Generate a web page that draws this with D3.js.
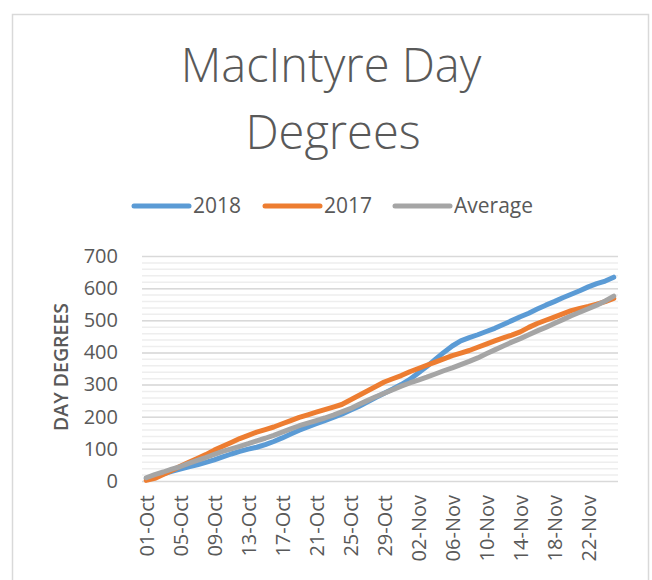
<!DOCTYPE html>
<html>
<head>
<meta charset="utf-8">
<script src="https://cdn.jsdelivr.net/npm/d3@7"></script>
<style>
  body { margin: 0; background: #fff; }
  text { font-family: 'Open Sans', sans-serif; fill: #595959; }
  .grid-minor line { stroke: #eeeeee; stroke-width: 1.5; }
  .grid-major line { stroke: #d9d9d9; stroke-width: 1.5; }
  .series { fill: none; stroke-width: 5; stroke-linejoin: round; stroke-linecap: round; }
</style>
</head>
<body>
<script>
// ==================== Data ============================
// One value per day, 01-Oct to 25-Nov
const days = d3.timeDay.range(new Date(2018, 9, 1), new Date(2018, 10, 26)).map(d3.timeFormat('%d-%b'));

const values2018 = [8, 15, 22, 30, 37, 44, 50, 58, 66, 75, 84, 92, 99, 105, 113, 123, 134, 146, 158, 168,
  178, 188, 198, 208, 220, 232, 246, 260, 273, 286, 300, 316, 336, 356, 378, 400, 420, 436, 446, 455,
  465, 475, 487, 499, 511, 522, 535, 547, 558, 570, 581, 592, 604, 614, 622, 634];

const values2017 = [2, 8, 20, 33, 46, 58, 70, 82, 96, 108, 120, 132, 142, 152, 160, 168, 178, 188, 198, 206,
  214, 222, 230, 238, 252, 266, 280, 294, 308, 318, 328, 340, 350, 360, 370, 380, 390, 398, 406, 416,
  426, 436, 445, 454, 464, 478, 490, 500, 510, 520, 530, 537, 543, 550, 558, 568];

const valuesAverage = [10, 20, 28, 37, 45, 55, 64, 73, 83, 92, 100, 108, 116, 125, 133, 142, 152, 162, 172, 180,
  188, 196, 205, 215, 225, 238, 250, 262, 273, 284, 295, 305, 314, 323, 333, 343, 352, 362, 372, 383,
  396, 408, 420, 432, 443, 455, 467, 478, 490, 502, 514, 525, 536, 547, 560, 575];

const series = [
  {name: '2018', values: values2018, color: '#5B9BD5'},
  {name: '2017', values: values2017, color: '#ED7D31'},
  {name: 'Average', values: valuesAverage, color: '#A5A5A5'}
];

const yTicks = [0, 100, 200, 300, 400, 500, 600, 700];

// ==================== Set up ============================
const W = 652, H = 580;
const plot = {left: 142, right: 618, top: 256, bottom: 481};

const x = d3.scalePoint().domain(days).range([plot.left, plot.right]).padding(0.5);
const y = d3.scaleLinear().domain([0, 700]).range([plot.bottom, plot.top]);

const svg = d3.select('body')
  .append('svg')
    .attr('width', W)
    .attr('height', H);

// Chart frame
svg.append('rect')
    .attr('x', 12.5).attr('y', 14.5)
    .attr('width', 636).attr('height', 620)
    .attr('fill', 'none')
    .attr('stroke', '#d9d9d9')
    .attr('stroke-width', 1.5);

// Title
const title = svg.append('text')
    .attr('text-anchor', 'middle')
    .style('font-size', '47px')
    .style('font-weight', 300);
title.append('tspan').attr('x', 331).attr('y', 82).text('MacIntyre Day');
title.append('tspan').attr('x', 333).attr('y', 149).text('Degrees');

// Legend
const legend = svg.append('g').selectAll('g')
  .data(series)
  .enter().append('g')
    .attr('transform', (d, i) => `translate(${[134, 265, 395][i]}, 206)`);

legend.append('line')
    .attr('x1', 0).attr('x2', 55)
    .attr('stroke', d => d.color)
    .attr('stroke-width', 5)
    .attr('stroke-linecap', 'round');

legend.append('text')
    .attr('x', 59)
    .attr('dy', '0.35em')
    .style('font-size', '21px')
    .text(d => d.name);

// Minor gridlines every 20
svg.append('g')
    .attr('class', 'grid-minor')
    .attr('transform', `translate(${plot.left}, 0)`)
    .call(d3.axisLeft(y).tickValues(d3.range(20, 700, 20)).tickSize(-(plot.right - plot.left)).tickFormat(''))
    .call(g => g.select('.domain').remove());

// Major gridlines + labels
svg.append('g')
    .attr('class', 'grid-major')
    .attr('transform', `translate(${plot.left}, 0)`)
    .call(d3.axisLeft(y).tickValues(yTicks).tickSize(-(plot.right - plot.left)).tickPadding(24))
    .call(g => g.select('.domain').remove())
    .call(g => g.selectAll('text')
        .style('font-size', '20px')
        .style('font-family', "'Open Sans', sans-serif")
        .attr('fill', '#595959'));

// Y axis label
svg.append('text')
    .attr('transform', `translate(61, 367) rotate(-90)`)
    .attr('text-anchor', 'middle')
    .attr('dy', '0.35em')
    .style('font-size', '19.5px')
    .style('font-weight', 600)
    .text('DAY DEGREES');

// X axis labels
svg.append('g')
    .attr('transform', `translate(0, ${plot.bottom})`)
    .call(d3.axisBottom(x).tickValues(days.filter((d, i) => i % 4 === 0)).tickSize(0).tickPadding(0))
    .call(g => g.select('.domain').remove())
    .call(g => g.selectAll('text')
        .style('font-size', '20px')
        .style('font-family', "'Open Sans', sans-serif")
        .attr('fill', '#595959')
        .attr('text-anchor', 'end')
        .attr('transform', 'rotate(-90)')
        .attr('x', -14)
        .attr('y', 0)
        .attr('dy', '0.35em'));

// Lines (later series drawn on top, Average last)
const line = d3.line()
    .x((d, i) => x(days[i]))
    .y(d => y(d));

svg.selectAll('.series')
  .data(series)
  .enter().append('path')
    .attr('class', 'series')
    .attr('stroke', d => d.color)
    .attr('d', d => line(d.values));
</script>
</body>
</html>
